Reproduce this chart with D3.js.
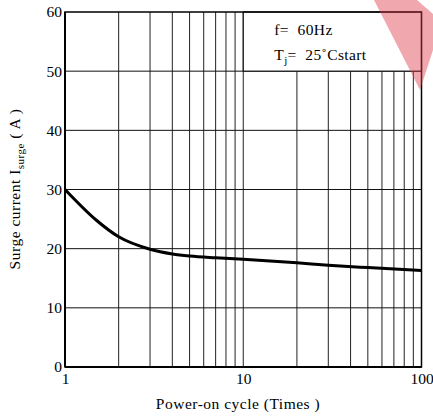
<!DOCTYPE html>
<html>
<head>
<meta charset="utf-8">
<script src="https://cdn.jsdelivr.net/npm/d3@7"></script>
<style>
  body { margin: 0; background: #fff; }
  text { font-family: "Liberation Serif", "DejaVu Serif", serif; fill: #000; }
</style>
</head>
<body>
<svg id="chart" width="433" height="416"></svg>
<script>
// data
var cycles = [1, 1.5, 2, 3, 4, 5, 7, 10, 20, 30, 50, 100];
var surgeAmps = [30, 24.8, 22.0, 19.9, 19.1, 18.75, 18.45, 18.2, 17.6, 17.2, 16.8, 16.3];
var xTickLabels = [1, 10, 100];
var yTickLabels = [0, 10, 20, 30, 40, 50, 60];
var xGrid = [2, 3, 4, 5, 6, 7, 8, 9, 10, 20, 30, 40, 50, 60, 70, 80, 90];
var yGrid = [10, 20, 30, 40, 50];
var legendLines = ["f=\u00a0\u00a060Hz", "T|j|=\u00a0\u00a025˚Cstart"];

var svg = d3.select("#chart"),
    plotLeft = 65,
    plotRight = 421.5,
    plotTop = 12,
    plotBottom = 367,
    fontSize = "15.5px";

var x = d3.scaleLog().domain([1, 100]).range([plotLeft, plotRight]);
var y = d3.scaleLinear().domain([0, 60]).range([plotBottom, plotTop]);

// grid
var grid = svg.append("g").attr("class", "grid");
grid.selectAll(".vline")
    .data(xGrid)
    .enter()
    .append("line")
    .attr("class", "vline")
    .attr("x1", function(d) { return x(d); })
    .attr("x2", function(d) { return x(d); })
    .attr("y1", plotTop)
    .attr("y2", plotBottom)
    .style("stroke", "#222")
    .style("stroke-width", 1);

grid.selectAll(".hline")
    .data(yGrid)
    .enter()
    .append("line")
    .attr("class", "hline")
    .attr("x1", plotLeft)
    .attr("x2", plotRight)
    .attr("y1", function(d) { return y(d); })
    .attr("y2", function(d) { return y(d); })
    .style("stroke", "#111")
    .style("stroke-width", 1);

// legend box covers the top right grid cell
svg.append("rect")
    .attr("x", x(10))
    .attr("y", y(60))
    .attr("width", x(100) - x(10))
    .attr("height", y(50) - y(60))
    .style("fill", "#fff")
    .style("stroke", "#111")
    .style("stroke-width", 1.2);

var legend = svg.append("g")
    .attr("transform", "translate(" + (x(10) + 31) + "," + (y(60) + 23) + ")");
legendLines.forEach(function(s, i) {
    var parts = s.split("|");
    var t = legend.append("text")
        .attr("y", i * 25)
        .style("font-size", fontSize)
        .style("letter-spacing", "0.4px");
    t.append("tspan").text(parts[0]);
    if (parts.length > 1) {
        t.append("tspan").attr("dy", 4).style("font-size", "11px").text(parts[1]);
        t.append("tspan").attr("dy", -4).text(parts[2]);
    }
});

// frame
svg.append("rect")
    .attr("x", plotLeft)
    .attr("y", plotTop)
    .attr("width", plotRight - plotLeft)
    .attr("height", plotBottom - plotTop)
    .style("fill", "none")
    .style("stroke", "#000")
    .style("stroke-width", 1.5);
svg.append("line")
    .attr("x1", plotLeft).attr("x2", plotLeft)
    .attr("y1", plotTop).attr("y2", plotBottom)
    .style("stroke", "#000").style("stroke-width", 2);
svg.append("line")
    .attr("x1", plotLeft).attr("x2", plotRight)
    .attr("y1", plotBottom).attr("y2", plotBottom)
    .style("stroke", "#000").style("stroke-width", 2);

// curve
var line = d3.line()
    .x(function(d, i) { return x(cycles[i]); })
    .y(function(d) { return y(d); })
    .curve(d3.curveMonotoneX);
svg.append("path")
    .datum(surgeAmps)
    .attr("d", line)
    .style("fill", "none")
    .style("stroke", "#000")
    .style("stroke-width", 3);

// axes, labels only
var xAxis = svg.append("g")
    .attr("transform", "translate(0," + plotBottom + ")")
    .call(d3.axisBottom(x).tickValues(xTickLabels).tickSize(0).tickPadding(6).tickFormat(d3.format("d")));
xAxis.select(".domain").remove();
xAxis.selectAll("text").style("font-size", fontSize).style("font-family", "Liberation Serif");

var yAxis = svg.append("g")
    .attr("transform", "translate(" + plotLeft + ",0)")
    .call(d3.axisLeft(y).tickValues(yTickLabels).tickSize(0).tickPadding(3));
yAxis.select(".domain").remove();
yAxis.selectAll("text").style("font-size", fontSize).style("font-family", "Liberation Serif");

// axis titles
svg.append("text")
    .attr("x", 238)
    .attr("y", 409)
    .attr("text-anchor", "middle")
    .style("font-size", fontSize)
    .style("letter-spacing", "0.5px")
    .text("Power-on cycle (Times )");

var yt = svg.append("text")
    .attr("transform", "translate(20,189) rotate(-90)")
    .attr("text-anchor", "middle")
    .style("font-size", fontSize)
    .style("letter-spacing", "0.5px");
yt.append("tspan").text("Surge current I");
yt.append("tspan").attr("dy", 4).style("font-size", "11px").text("surge");
yt.append("tspan").attr("dy", -4).text(" ( A )");

// pink watermark in the top right corner
svg.append("polygon")
    .attr("points", "374,0 417,0 433,14 433,50 420,90")
    .style("fill", "#e03c4b")
    .style("opacity", 0.45);
</script>
</body>
</html>
